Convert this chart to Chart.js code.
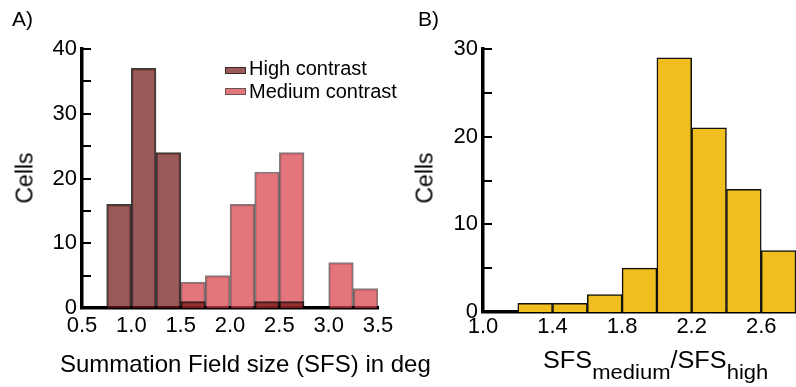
<!DOCTYPE html>
<html><head><meta charset="utf-8">
<script src="https://cdn.jsdelivr.net/npm/chart.js@4"></script>
<style>
html,body{margin:0;padding:0;background:#fff;}
#wrap{position:relative;width:796px;height:387px;overflow:hidden;font-family:"Liberation Sans",Arial,Helvetica,sans-serif;color:#000;}
#c1{position:absolute;left:0;top:0;}
#c2{position:absolute;left:400px;top:0;}
.t{position:absolute;white-space:nowrap;line-height:1;}
.sub{font-size:20px;position:relative;top:11px;}
.sw{position:absolute;width:19px;height:5px;border:1px solid;}
</style></head><body>
<div id="wrap">
<canvas id="c1" width="400" height="387"></canvas>
<canvas id="c2" width="396" height="387"></canvas>
<div class="t" style="left:12px;top:8px;font-size:21px;">A)</div>
<div class="t" style="left:418px;top:8px;font-size:21px;">B)</div>
<div class="t" style="left:25px;top:178px;font-size:23px;transform:translate(-50%,-50%) rotate(-90deg);">Cells</div>
<div class="t" style="left:425px;top:178px;font-size:23px;transform:translate(-50%,-50%) rotate(-90deg);">Cells</div>
<div class="t" style="left:60px;top:352px;font-size:24px;">Summation Field size (SFS) in deg</div>
<div class="t" id="xr" style="left:543px;top:349px;font-size:23px;transform-origin:left center;transform:scaleX(1.1);">SFS<span class="sub">medium</span>/SFS<span class="sub">high</span></div>
<div class="sw" style="left:225px;top:67px;background:#9b5b5b;border-color:#3a2424;"></div>
<div class="sw" style="left:225px;top:88px;background:#e1767b;border-color:#6e5050;"></div>
<div class="t" style="left:249px;top:58px;font-size:20px;">High contrast</div>
<div class="t" style="left:249px;top:81px;font-size:20px;">Medium contrast</div>
</div>
<script>
// ---- Data (panel A) ----
const leftBinStarts = [0.75, 1.0, 1.25, 1.5, 1.75, 2.0, 2.25, 2.5, 2.75, 3.0, 3.25];
const leftBinWidth = 0.25;
const highContrast   = [16, 37, 24, 1, 0, 0, 1, 1, 0, 0, 0];
const mediumContrast = [0, 0, 0, 4, 5, 16, 21, 24, 0, 7, 3];
const leftXTicks = [0.5, 1.0, 1.5, 2.0, 2.5, 3.0, 3.5];
const leftYTicks = [0, 5, 10, 15, 20, 25, 30, 35, 40];
const leftYLabels = [0, 10, 20, 30, 40];

// ---- Data (panel B) ----
const ratioBinStarts = [1.0, 1.2, 1.4, 1.6, 1.8, 2.0, 2.2, 2.4, 2.6];
const ratioBinWidth = 0.2;
const ratioCounts = [0, 1, 1, 2, 5, 29, 21, 14, 7];
const rightXTicks = [1.0, 1.4, 1.8, 2.2, 2.6];
const rightYTicks = [0, 5, 10, 15, 20, 25, 30];
const rightYLabels = [0, 10, 20, 30];

const toPoints = (starts, w, counts) => starts.map((s, i) => ({x: s + w / 2, y: counts[i] === 0 ? null : counts[i]}));

Chart.defaults.font.family = '"Liberation Sans", Arial, Helvetica, sans-serif';
Chart.defaults.color = '#000';

const inwardTicks = {
  id: 'inwardTicks',
  afterDatasetsDraw(chart) {
    const ys = chart.scales.y, a = chart.chartArea, ctx = chart.ctx;
    ctx.save();
    ctx.strokeStyle = '#000';
    ctx.lineWidth = 2;
    ys.ticks.forEach(t => {
      if (t.value === 0) return;
      const py = Math.round(ys.getPixelForValue(t.value));
      ctx.beginPath();
      ctx.moveTo(a.left, py);
      ctx.lineTo(a.left + 9, py);
      ctx.stroke();
    });
    ctx.restore();
  }
};

function makeOptions(cfg) {
  return {
    responsive: false,
    animation: false,
    layout: {padding: {left: 0, top: 49, right: cfg.padRight, bottom: 0}},
    plugins: {legend: {display: false}, tooltip: {enabled: false}},
    scales: {
      x: {
        type: 'linear', min: cfg.xMin, max: cfg.xMax, offset: false,
        grid: {display: false, drawTicks: false, offset: false},
        border: {display: true, color: '#000', width: 3.5},
        afterBuildTicks: s => { s.ticks = cfg.xTicks.map(v => ({value: v})); },
        afterFit: s => { s.height = cfg.xHeight; },
        ticks: {font: {size: 22}, padding: cfg.xPad, maxRotation: 0, autoSkip: false, callback: v => Number(v).toFixed(1)}
      },
      y: {
        type: 'linear', min: 0, max: cfg.yMax,
        grid: {display: false, drawTicks: false},
        border: {display: true, color: '#000', width: 3.5},
        afterBuildTicks: s => { s.ticks = cfg.yTicks.map(v => ({value: v})); },
        afterFit: s => { s.width = cfg.yWidth; },
        ticks: {font: {size: 22}, padding: 5, autoSkip: false, callback: v => cfg.yLabels.includes(v) ? String(v) : ''}
      }
    }
  };
}

new Chart(document.getElementById('c1'), {
  type: 'bar',
  data: {
    datasets: [
      {label: 'High contrast', data: toPoints(leftBinStarts, leftBinWidth, highContrast),
       backgroundColor: 'rgba(112,20,20,0.7)', borderColor: 'rgba(0,0,0,0.75)', borderWidth: 1.5,
       grouped: false, barPercentage: 1, categoryPercentage: 1},
      {label: 'Medium contrast', data: toPoints(leftBinStarts, leftBinWidth, mediumContrast),
       backgroundColor: 'rgba(214,60,68,0.7)', borderColor: 'rgba(0,0,0,0.5)', borderWidth: 1.5,
       grouped: false, barPercentage: 1, categoryPercentage: 1}
    ]
  },
  options: makeOptions({padRight: 22, xMin: 0.5, xMax: 3.5, xTicks: leftXTicks, xHeight: 79, xPad: 5,
                        yMax: 40, yTicks: leftYTicks, yLabels: leftYLabels, yWidth: 82}),
  plugins: [inwardTicks]
});

new Chart(document.getElementById('c2'), {
  type: 'bar',
  data: {
    datasets: [
      {label: 'SFS ratio', data: toPoints(ratioBinStarts, ratioBinWidth, ratioCounts),
       backgroundColor: '#f0be1e', borderColor: '#111', borderWidth: 1.5,
       grouped: false, barPercentage: 1, categoryPercentage: 1}
    ]
  },
  options: makeOptions({padRight: 0, xMin: 1.0, xMax: 2.8, xTicks: rightXTicks, xHeight: 75, xPad: 2,
                        yMax: 30, yTicks: rightYTicks, yLabels: rightYLabels, yWidth: 83}),
  plugins: [inwardTicks]
});
</script>
</body></html>
